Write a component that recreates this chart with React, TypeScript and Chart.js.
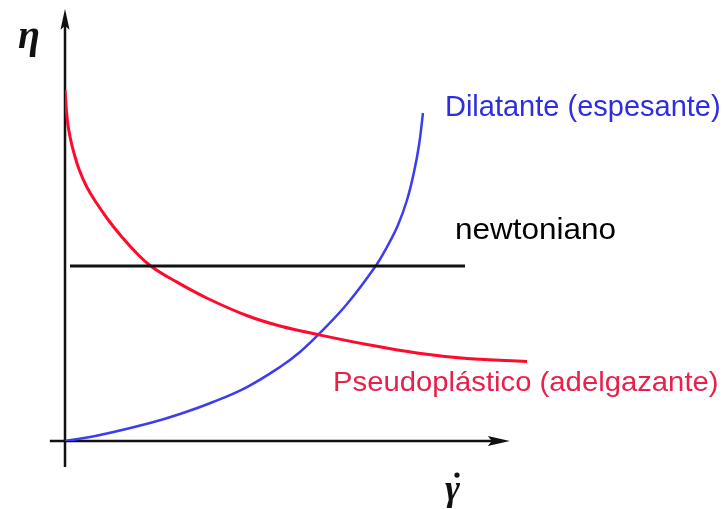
import React, { useEffect, useRef } from "react";
import { Chart, registerables } from "chart.js";

Chart.register(...registerables);

// Pseudoplastic (shear-thinning) curve, data units
const pseudoX = [0, 0.035, 0.076, 0.137, 0.217, 0.329, 0.481, 0.657, 0.86, 1.088, 1.316, 1.669, 2.15, 2.757, 3.263, 3.869, 4.583, 5.341, 6.1, 7.011];
const pseudoY = [7.959, 7.279, 6.9, 6.524, 6.145, 5.766, 5.39, 5.011, 4.633, 4.256, 3.952, 3.628, 3.243, 2.846, 2.608, 2.404, 2.188, 1.995, 1.871, 1.803];

// Dilatant (shear-thickening) curve
const dilatX = [0, 0.531, 1.29, 1.745, 2.246, 2.762, 3.263, 3.566, 3.869, 4.279, 4.704, 4.886, 5.053, 5.19, 5.296, 5.372, 5.432];
const dilatY = [0, 0.136, 0.408, 0.612, 0.884, 1.224, 1.678, 2.018, 2.449, 3.107, 3.946, 4.399, 4.898, 5.465, 6.1, 6.712, 7.438];

// Newtonian line
const newtX = [0.076, 6.07];
const newtY = [3.97, 3.97];

// Axis extents (data units)
const xAxisRange = [-0.23, 6.75];
const yAxisRange = [-0.59, 9.8];

const labels = {
  dilat: "Dilatante (espesante)",
  newt: "newtoniano",
  pseudo: "Pseudoplástico (adelgazante)",
  eta: "η",
  gamma: "γ",
};

const toPts = (xs: number[], ys: number[]) => xs.map((x, i) => ({ x, y: ys[i] }));

function drawText(ctx: CanvasRenderingContext2D, text: string, x: number, y: number, font: string, color: string, sx = 1) {
  ctx.save();
  ctx.font = font;
  ctx.fillStyle = color;
  ctx.translate(x, y);
  ctx.scale(sx, 1);
  ctx.fillText(text, 0, 0);
  ctx.restore();
}

export default function App() {
  const ref = useRef<HTMLCanvasElement | null>(null);

  useEffect(() => {
    if (!ref.current) return;
    const decor = {
      id: "decor",
      beforeDatasetsDraw(chart: any) {
        const { ctx, scales } = chart;
        const xs = scales.x, ys = scales.y;
        const ox = xs.getPixelForValue(0);
        const oy = ys.getPixelForValue(0);
        ctx.save();
        ctx.strokeStyle = "#111";
        ctx.fillStyle = "#111";
        ctx.lineWidth = 2.5;
        // y axis
        const yTop = ys.getPixelForValue(yAxisRange[1]);
        const yBot = ys.getPixelForValue(yAxisRange[0]);
        ctx.beginPath();
        ctx.moveTo(ox, yBot);
        ctx.lineTo(ox, yTop + 14);
        ctx.stroke();
        ctx.beginPath();
        ctx.moveTo(ox, yTop);
        ctx.lineTo(ox - 4.5, yTop + 21);
        ctx.lineTo(ox, yTop + 17);
        ctx.lineTo(ox + 4.5, yTop + 21);
        ctx.closePath();
        ctx.fill();
        // x axis
        const xL = xs.getPixelForValue(xAxisRange[0]);
        const xR = xs.getPixelForValue(xAxisRange[1]);
        ctx.beginPath();
        ctx.moveTo(xL, oy);
        ctx.lineTo(xR - 14, oy);
        ctx.stroke();
        ctx.beginPath();
        ctx.moveTo(xR, oy);
        ctx.lineTo(xR - 22, oy - 5);
        ctx.lineTo(xR - 18, oy);
        ctx.lineTo(xR - 22, oy + 5);
        ctx.closePath();
        ctx.fill();
        ctx.restore();
      },
      afterDatasetsDraw(chart: any) {
        const { ctx, scales } = chart;
        const xs = scales.x, ys = scales.y;
        const px = (v: number) => xs.getPixelForValue(v);
        const py = (v: number) => ys.getPixelForValue(v);
        ctx.save();
        ctx.textBaseline = "alphabetic";
        ctx.textAlign = "left";
        const sans = '"Liberation Sans", Arial, sans-serif';
        drawText(ctx, labels.dilat, px(5.766), py(7.37), "29px " + sans, "#2e2ee0", 1);
        drawText(ctx, labels.newt, px(5.918), py(4.58), "30px " + sans, "#000", 1.05);
        drawText(ctx, labels.pseudo, px(4.067), py(1.136), "28px " + sans, "#e8204c", 1.045);
        const serif = '"Liberation Serif", "DejaVu Serif", serif';
        drawText(ctx, labels.eta, px(-0.713), py(8.91), "bold italic 40px " + serif, "#111", 1);
        const gx = px(5.766), gy = py(-1.34);
        drawText(ctx, labels.gamma, gx, gy, "bold italic 36px " + serif, "#111", 1);
        ctx.fillStyle = "#111";
        ctx.beginPath();
        ctx.arc(gx + 12, gy - 25, 2.6, 0, Math.PI * 2);
        ctx.fill();
        ctx.restore();
      },
    };

    const chart = new Chart(ref.current, {
      type: "scatter",
      data: {
        datasets: [
          {
            data: toPts(newtX, newtY),
            showLine: true,
            borderColor: "#111",
            borderWidth: 3,
            pointRadius: 0,
          },
          {
            data: toPts(pseudoX, pseudoY),
            showLine: true,
            borderColor: "#ff0a2d",
            borderWidth: 3,
            pointRadius: 0,
            tension: 0.4,
          },
          {
            data: toPts(dilatX, dilatY),
            showLine: true,
            borderColor: "#3c3cf0",
            borderWidth: 2.5,
            pointRadius: 0,
            tension: 0.4,
          },
        ],
      },
      options: {
        animation: false,
        responsive: false,
        layout: { padding: { left: 65, right: 0, top: 0, bottom: 68 } },
        plugins: { legend: { display: false }, tooltip: { enabled: false } },
        scales: {
          x: { type: "linear", min: 0, max: 10, display: false },
          y: { type: "linear", min: 0, max: 10, display: false },
        },
      },
      plugins: [decor],
    } as any);
    return () => chart.destroy();
  }, []);

  return (
    <div style={{ position: "fixed", left: 0, top: 0, width: 724, height: 509, background: "#fff" }}>
      <canvas ref={ref} width={724} height={509} />
    </div>
  );
}
